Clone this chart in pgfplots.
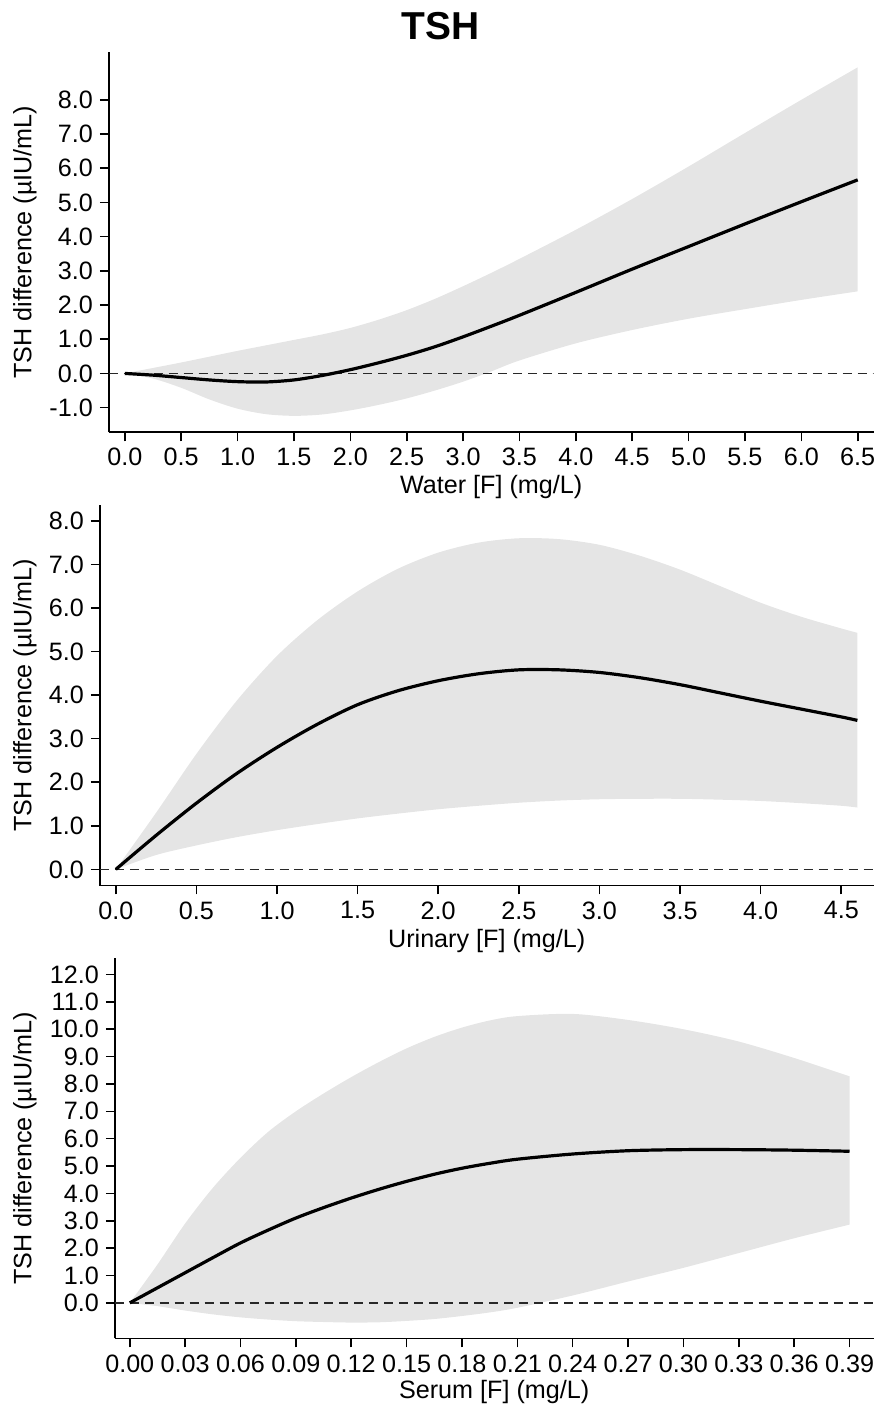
\documentclass[border=0pt]{standalone}
\usepackage{fontspec}
\setmainfont{Liberation Sans}
\usepackage{pgfplots}
\pgfplotsset{compat=1.18}
\usepgfplotslibrary{fillbetween}
\usepackage{pgfplotstable}
\definecolor{band}{RGB}{229,229,229}
\definecolor{dashc}{RGB}{40,40,40}

\pgfplotstableread{
x mean up lo
0.00 0.00 0.00 0.00
0.25 -0.05 0.16 -0.15
0.50 -0.12 0.32 -0.42
0.75 -0.19 0.49 -0.76
1.00 -0.24 0.66 -1.03
1.25 -0.25 0.82 -1.19
1.50 -0.19 0.98 -1.24
1.75 -0.06 1.14 -1.20
2.00 0.11 1.33 -1.08
2.25 0.31 1.57 -0.92
2.50 0.53 1.85 -0.73
2.75 0.78 2.18 -0.50
3.00 1.07 2.55 -0.24
3.25 1.38 2.94 0.06
3.50 1.70 3.35 0.38
4.00 2.37 4.20 0.88
4.50 3.05 5.10 1.27
5.00 3.71 6.05 1.60
5.50 4.37 7.03 1.88
6.00 5.02 8.00 2.15
6.50 5.66 8.95 2.40
}\water

\pgfplotstableread{
x mean up lo
0.00 0.00 0.00 0.00
0.25 0.78 1.30 0.33
0.50 1.52 2.65 0.55
0.75 2.20 3.87 0.74
1.00 2.80 4.90 0.90
1.25 3.33 5.72 1.04
1.50 3.78 6.38 1.17
1.75 4.10 6.90 1.28
2.00 4.33 7.27 1.38
2.25 4.49 7.50 1.46
2.50 4.58 7.60 1.53
2.75 4.58 7.58 1.58
3.00 4.52 7.45 1.61
3.25 4.40 7.20 1.62
3.50 4.24 6.88 1.62
3.75 4.05 6.50 1.60
4.00 3.86 6.12 1.57
4.25 3.68 5.80 1.52
4.50 3.50 5.53 1.46
4.60 3.42 5.43 1.42
}\urine

\pgfplotstableread{
x mean up lo
0.000 0.00 0.00 0.00
0.015 0.55 1.40 -0.12
0.030 1.10 2.90 -0.28
0.045 1.65 4.20 -0.42
0.060 2.19 5.30 -0.53
0.075 2.66 6.25 -0.61
0.090 3.10 7.00 -0.67
0.105 3.48 7.65 -0.70
0.120 3.83 8.25 -0.72
0.135 4.15 8.80 -0.71
0.150 4.44 9.30 -0.66
0.165 4.70 9.72 -0.59
0.180 4.92 10.06 -0.48
0.195 5.10 10.32 -0.35
0.210 5.25 10.48 -0.18
0.240 5.44 10.56 0.27
0.270 5.56 10.34 0.78
0.300 5.60 10.00 1.28
0.330 5.60 9.55 1.82
0.360 5.58 8.95 2.36
0.390 5.54 8.28 2.86
}\serum

\pgfplotsset{
  panel/.style={
    scale only axis,
    axis lines*=left,
    axis line style={line width=0.8pt,-},
    tick style={line width=0.8pt,black},
    tick align=outside,
    major tick length=4.5pt,
    enlargelimits=false,
    every tick label/.append style={font=\fontsize{12.6}{14}\selectfont},
    every axis label/.append style={font=\fontsize{12.6}{14}\selectfont},
    /pgf/number format/assume math mode=true,
    ylabel={TSH difference (µIU/mL)},
  },
  bandstyle/.style={fill=band, draw=none},
  meanstyle/.style={black, line width=1.6pt, smooth},
  zerostyle/.style={dashc, line width=0.75pt, dash pattern=on 4.5pt off 3pt},
}

\begin{document}
\begin{tikzpicture}
\path (0,0) rectangle (438.5pt,-705pt);
\node[font=\bfseries\fontsize{19.5}{22}\selectfont] at (220.5pt,-13pt) {TSH};

% Panel 1: Water
\begin{axis}[panel,
  at={(54.5pt,-26pt)}, anchor=north west,
  width=383pt, height=190.5pt,
  xmin=-0.142, xmax=6.64, ymin=-1.72, ymax=9.40,
  xtick={0,0.5,...,6.5}, ytick={-1,0,...,8},
  xticklabel style={/pgf/number format/.cd,fixed,fixed zerofill,precision=1},
  yticklabel style={/pgf/number format/.cd,fixed,fixed zerofill,precision=1},
  xlabel={Water [F] (mg/L)},
  xlabel style={at={(axis description cs:0.5,-0.145)}, anchor=center},
  ylabel style={at={(axis description cs:-0.1097,0.5)}, anchor=center},
]
\addplot[name path=u1, draw=none, smooth] table[x=x,y=up] {\water};
\addplot[name path=l1, draw=none, smooth] table[x=x,y=lo] {\water};
\addplot[bandstyle] fill between[of=u1 and l1];
\addplot[zerostyle] coordinates {(-0.142,0) (6.64,0)};
\addplot[meanstyle] table[x=x,y=mean] {\water};
\end{axis}

% Panel 2: Urinary
\begin{axis}[panel,
  at={(50pt,-253pt)}, anchor=north west,
  width=387.5pt, height=190.5pt,
  xmin=-0.099, xmax=4.70, ymin=-0.37, ymax=8.36,
  xtick={0,0.5,...,4.5}, ytick={0,1,...,8},
  xticklabel style={/pgf/number format/.cd,fixed,fixed zerofill,precision=1},
  yticklabel style={/pgf/number format/.cd,fixed,fixed zerofill,precision=1},
  xlabel={Urinary [F] (mg/L)},
  xlabel style={at={(axis description cs:0.5,-0.145)}, anchor=center},
  ylabel style={at={(axis description cs:-0.0968,0.5)}, anchor=center},
]
\addplot[name path=u2, draw=none, smooth] table[x=x,y=up] {\urine};
\addplot[name path=l2, draw=none, smooth] table[x=x,y=lo] {\urine};
\addplot[bandstyle] fill between[of=u2 and l2];
\addplot[zerostyle] coordinates {(-0.099,0) (4.70,0)};
\addplot[meanstyle] table[x=x,y=mean] {\urine};
\end{axis}

% Panel 3: Serum
\begin{axis}[panel,
  at={(57.5pt,-480pt)}, anchor=north west,
  width=380pt, height=190.35pt,
  xmin=-0.0081, xmax=0.403, ymin=-1.30, ymax=12.59,
  xtick={0,0.03,0.06,0.09,0.12,0.15,0.18,0.21,0.24,0.27,0.30,0.33,0.36,0.39},
  ytick={0,1,...,12},
  xticklabel style={/pgf/number format/.cd,fixed,fixed zerofill,precision=2},
  yticklabel style={/pgf/number format/.cd,fixed,fixed zerofill,precision=1},
  xlabel={Serum [F] (mg/L)},
  xlabel style={at={(axis description cs:0.5,-0.140)}, anchor=center},
  ylabel style={at={(axis description cs:-0.1184,0.5)}, anchor=center},
]
\addplot[name path=u3, draw=none, smooth] table[x=x,y=up] {\serum};
\addplot[name path=l3, draw=none, smooth] table[x=x,y=lo] {\serum};
\addplot[bandstyle] fill between[of=u3 and l3];
\addplot[zerostyle] coordinates {(-0.0081,0) (0.403,0)};
\addplot[meanstyle] table[x=x,y=mean] {\serum};
\end{axis}
\end{tikzpicture}
\end{document}
